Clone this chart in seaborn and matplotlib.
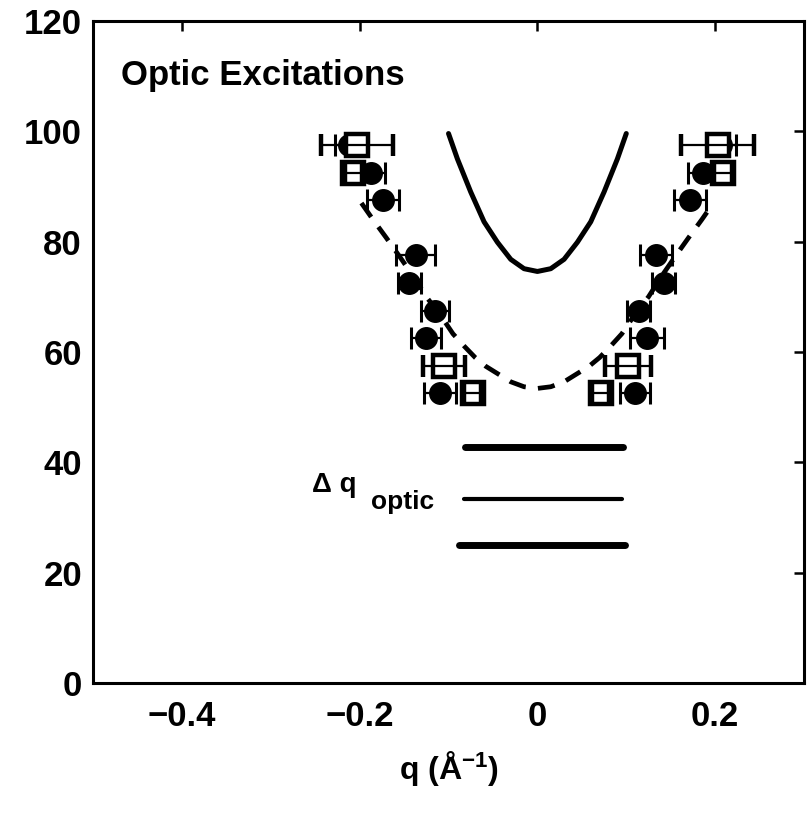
import matplotlib
matplotlib.use("Agg")
import matplotlib.pyplot as plt
import seaborn as sns
import pandas as pd

# ---------------- data ----------------
circle_E = [52.5, 62.5, 67.5, 72.5, 77.5, 87.5, 92.5, 97.5]
circle_q_left = [-0.110, -0.125, -0.115, -0.144, -0.137, -0.174, -0.187, -0.212]
circle_err_left = [0.018, 0.017, 0.016, 0.013, 0.022, 0.018, 0.016, 0.016]
circle_q_right = [0.110, 0.123, 0.114, 0.142, 0.133, 0.172, 0.186, 0.207]
circle_err_right = [0.017, 0.019, 0.013, 0.013, 0.018, 0.018, 0.016, 0.016]

square_E = [52.5, 57.5, 92.5, 97.5]
square_q_left = [-0.073, -0.105, -0.207, -0.203]
square_err_left = [0.010, 0.024, 0.010, 0.041]
square_q_right = [0.071, 0.102, 0.209, 0.203]
square_err_right = [0.010, 0.026, 0.010, 0.041]

solid_q = [-0.100, -0.090, -0.075, -0.060, -0.045, -0.030, -0.015, 0.000,
           0.015, 0.030, 0.045, 0.060, 0.075, 0.090, 0.100]
solid_E = [99.6, 95.0, 89.0, 83.6, 79.9, 76.8, 75.1, 74.6,
           75.1, 76.8, 79.9, 83.6, 89.0, 95.0, 99.6]

dashed_q = [-0.198, -0.185, -0.170, -0.155, -0.140, -0.125, -0.110, -0.095,
            -0.082, -0.070, -0.058, -0.045, -0.030, -0.015, 0.000,
            0.015, 0.030, 0.045, 0.058, 0.070, 0.082, 0.095, 0.110,
            0.125, 0.140, 0.155, 0.170, 0.185, 0.198]
dashed_E = [87.0, 84.0, 80.7, 77.3, 73.8, 70.0, 66.9, 63.3,
            61.0, 59.0, 57.4, 56.1, 54.6, 53.7, 53.4,
            53.7, 54.6, 56.1, 57.4, 59.0, 61.0, 63.3, 66.9,
            70.0, 73.8, 77.3, 80.7, 84.0, 87.0]

res_E = [42.7, 33.3, 25.1]
res_q_start = [-0.081, -0.083, -0.088]
res_q_end = [0.096, 0.095, 0.099]
res_width = [5.0, 3.0, 5.0]

x_ticks = [-0.4, -0.2, 0, 0.2]
x_ticklabels = ["\u22120.4", "\u22120.2", "0", "0.2"]
y_ticks = [0, 20, 40, 60, 80, 100, 120]

# ---------------- style ----------------
sns.set_style("white")
plt.rcParams["font.family"] = ["Liberation Sans", "DejaVu Sans"]
plt.rcParams["font.weight"] = "bold"
plt.rcParams["mathtext.fontset"] = "custom"
plt.rcParams["mathtext.rm"] = "Liberation Sans:bold"
plt.rcParams["mathtext.default"] = "rm"
plt.rcParams["text.color"] = "black"
plt.rcParams["axes.labelcolor"] = "black"
plt.rcParams["xtick.color"] = "black"
plt.rcParams["ytick.color"] = "black"

fig = plt.figure(figsize=(8.11, 8.17), dpi=100)
ax = fig.add_axes([0.1147, 0.164, 0.8767, 0.8103])

# theory curves
solid_df = pd.DataFrame({"q": solid_q, "E": solid_E})
dashed_df = pd.DataFrame({"q": dashed_q, "E": dashed_E})
sns.lineplot(data=solid_df, x="q", y="E", ax=ax, color="black", lw=3.6,
             sort=False, estimator=None, zorder=2)
sns.lineplot(data=dashed_df, x="q", y="E", ax=ax, color="black", lw=3.4,
             sort=False, estimator=None, zorder=2, linestyle=(0, (3.6, 2.6)))

# resolution bars
for e, q0, q1, w in zip(res_E, res_q_start, res_q_end, res_width):
    ax.plot([q0, q1], [e, e], color="black", lw=w, solid_capstyle="round", zorder=2)

# filled circles
for qs, errs in ((circle_q_left, circle_err_left), (circle_q_right, circle_err_right)):
    ax.errorbar(qs, circle_E, xerr=errs, fmt="o", color="black", ms=15.5,
                mfc="black", mec="black", elinewidth=1.6, capsize=8, capthick=2.2,
                zorder=3)

# open squares
for qs, errs in ((square_q_left, square_err_left), (square_q_right, square_err_right)):
    ax.errorbar(qs, square_E, xerr=errs, fmt="s", color="black", ms=16.5,
                mfc="white", mec="black", mew=3.2, elinewidth=1.6, capsize=8,
                capthick=2.2, barsabove=True, zorder=4)

# texts
ax.text(-0.469, 108.4, "Optic Excitations", fontsize=25, fontweight="bold",
        va="baseline", ha="left", color="black")
ax.text(-0.254, 34.7, "\u0394 q", fontsize=20, fontweight="bold",
        va="baseline", ha="left", color="black")
ax.text(-0.187, 31.5, "optic", fontsize=19, fontweight="bold",
        va="baseline", ha="left", color="black")

# axes
ax.set_xlim(-0.5, 0.3)
ax.set_ylim(0, 120)
ax.set_xticks(x_ticks)
ax.set_xticklabels(x_ticklabels)
ax.set_yticks(y_ticks)
ax.set_xlabel("q (\u00c5$^{\u22121}$)", fontsize=23, fontweight="bold", labelpad=12,
              color="black")
ax.set_ylabel("")
ax.tick_params(direction="in", length=7, width=1.8, top=True, right=True,
               labelsize=25, colors="black")
ax.tick_params(axis="x", pad=12)
ax.tick_params(axis="y", pad=8)
for lab in ax.get_xticklabels() + ax.get_yticklabels():
    lab.set_fontweight("bold")
for sp in ax.spines.values():
    sp.set_visible(True)
    sp.set_linewidth(2.2)
    sp.set_color("black")
ax.grid(False)

fig.savefig("out.png", dpi=100, facecolor="white")
